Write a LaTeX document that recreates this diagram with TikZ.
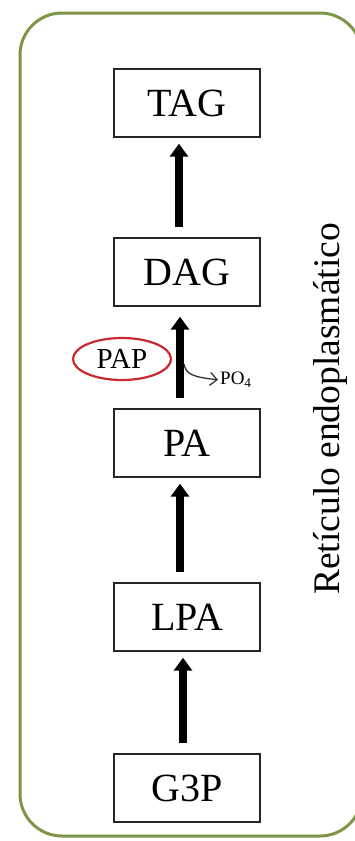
\documentclass[tikz,border=0pt]{standalone}
\usepackage{fontspec}
\setmainfont{Liberation Serif}
\usetikzlibrary{arrows.meta,calc,shapes.geometric}
\definecolor{framegreen}{RGB}{128,148,72}
\definecolor{papred}{RGB}{200,40,50}
\tikzset{
  stage/.style={draw=black!85,line width=1.4pt,minimum width=146pt,minimum height=68pt,inner sep=0pt,font=\fontsize{40}{40}\selectfont},
  bigarrow/.style={line width=8pt,-{Triangle[width=18pt,length=13pt]},shorten <=10pt,shorten >=6pt},
}
\begin{document}
\begin{tikzpicture}[x=1pt,y=-1pt]
\useasboundingbox (0,0) rectangle (355,841);
\begin{scope}
\clip (0,0) rectangle (355,841);
\draw[framegreen,line width=3pt,rounded corners=42pt] (20,13) rectangle (362,836);
\end{scope}
\node[stage] (tag) at (187,103) {TAG};
\node[stage] (dag) at (187,272) {DAG};
\node[stage] (pa) at (187,443) {PA};
\node[stage] (lpa) at (187,617) {LPA};
\node[stage] (g3p) at (187,788) {G3P};
\draw[bigarrow] ([xshift=-8pt]dag.north) -- ([xshift=-8pt]tag.south);
\draw[bigarrow,shorten >=10pt] ([xshift=-7pt]pa.north) -- ([xshift=-7pt]dag.south);
\draw[bigarrow] ([xshift=-7pt]lpa.north) -- ([xshift=-7pt]pa.south);
\draw[bigarrow] ([xshift=-4pt]g3p.north) -- ([xshift=-4pt]lpa.south);
\node[draw=papred,line width=2.2pt,ellipse,minimum width=98pt,minimum height=42pt,inner sep=0pt,font=\fontsize{29}{29}\selectfont] (pap) at (122,359) {PAP};
\coordinate (br) at (184,364);
\node[anchor=west,inner sep=0pt,font=\fontsize{19}{19}\selectfont] (po4) at (220,380) {PO\textsubscript{4}};
\draw[black!80,line width=1.3pt,-{Straight Barb[length=7pt,width=13pt]},shorten >=2pt] (br) .. controls (186,374) and (192,377) .. (po4.west);
\node[rotate=90,inner sep=0pt,font=\fontsize{37.5}{37.5}\selectfont] (er) at (330,409) {Retículo endoplasmático};
\end{tikzpicture}
\end{document}
